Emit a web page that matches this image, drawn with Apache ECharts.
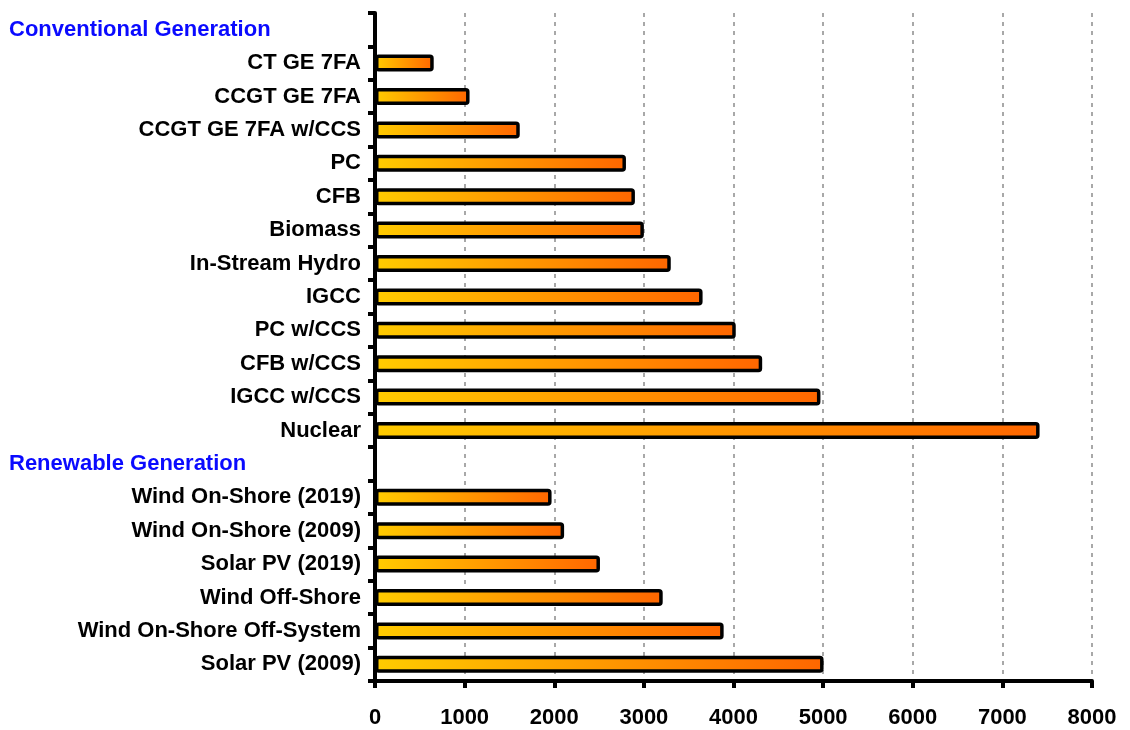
<!DOCTYPE html>
<html>
<head>
<meta charset="utf-8">
<script src="https://cdn.jsdelivr.net/npm/echarts@6/dist/echarts.min.js"></script>
<style>
html,body{margin:0;padding:0;background:#fff;}
#chart{width:1130px;height:730px;}
</style>
</head>
<body>
<div id="chart"></div>
<script>
var categories = [
  'Conventional Generation',
  'CT GE 7FA',
  'CCGT GE 7FA',
  'CCGT GE 7FA w/CCS',
  'PC',
  'CFB',
  'Biomass',
  'In-Stream Hydro',
  'IGCC',
  'PC w/CCS',
  'CFB w/CCS',
  'IGCC w/CCS',
  'Nuclear',
  'Renewable Generation',
  'Wind On-Shore (2019)',
  'Wind On-Shore (2009)',
  'Solar PV (2019)',
  'Wind Off-Shore',
  'Wind On-Shore Off-System',
  'Solar PV (2009)'
];
var headers = ['Conventional Generation', 'Renewable Generation'];
var values = [
  null, 655, 1055, 1615, 2800, 2900, 3000, 3300, 3655, 4025, 4320, 4970, 7415,
  null, 1970, 2110, 2510, 3210, 3890, 5005
];
var xTicks = [0, 1000, 2000, 3000, 4000, 5000, 6000, 7000, 8000];

var FONT = "'Liberation Sans', Arial, sans-serif";
var chart = echarts.init(document.getElementById('chart'), null, {renderer: 'canvas'});
chart.setOption({
  animation: false,
  backgroundColor: '#ffffff',
  grid: {left: 375, right: 38, top: 13, bottom: 49, containLabel: false},
  xAxis: {
    type: 'value',
    min: xTicks[0],
    max: xTicks[xTicks.length - 1],
    interval: xTicks[1] - xTicks[0],
    axisLine: {show: true, lineStyle: {color: '#000', width: 4}},
    axisTick: {show: true, length: 7, lineStyle: {color: '#000', width: 4}},
    axisLabel: {
      margin: 26, color: '#000', fontSize: 22, fontWeight: 'bold', fontFamily: FONT,
      formatter: function (v) { return String(v); }
    },
    splitLine: {show: true, lineStyle: {color: '#8c8c8c', width: 1.5, type: [4, 5]}}
  },
  yAxis: {
    type: 'category',
    inverse: true,
    data: categories,
    axisLine: {show: true, lineStyle: {color: '#000', width: 4}},
    axisTick: {show: true, interval: 0, length: 7, lineStyle: {color: '#000', width: 4}},
    axisLabel: {
      interval: 0, margin: 14, color: '#000', fontSize: 22, fontWeight: 'bold', fontFamily: FONT,
      formatter: function (v) {
        if (headers.indexOf(v) >= 0) return '{h|' + v + '}';
        return v;
      },
      rich: {
        h: {color: '#0a0aff', width: 352, align: 'left', fontSize: 22, fontWeight: 'bold', fontFamily: FONT}
      }
    },
    splitLine: {show: false}
  },
  series: [{
    type: 'bar',
    data: values,
    barWidth: 17,
    itemStyle: {
      color: new echarts.graphic.LinearGradient(0, 0, 1, 0, [
        {offset: 0, color: '#FFCC00'},
        {offset: 1, color: '#FF6600'}
      ]),
      borderColor: '#000',
      borderWidth: 3.5,
      borderRadius: 2
    }
  }]
});
</script>
</body>
</html>
